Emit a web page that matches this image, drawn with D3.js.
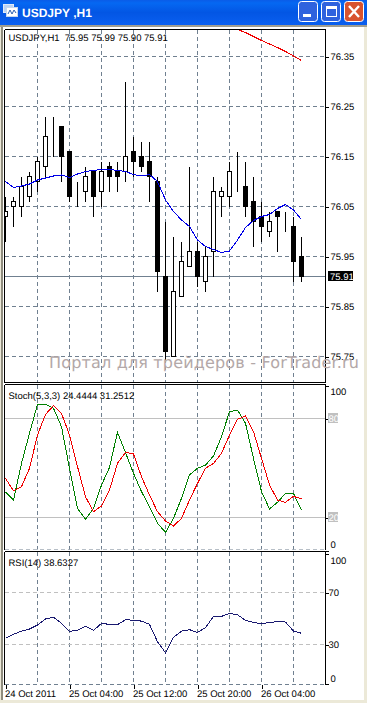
<!DOCTYPE html>
<html>
<head>
<meta charset="utf-8">
<script src="https://cdnjs.cloudflare.com/ajax/libs/d3/7.8.5/d3.min.js"></script>
<style>
html, body { margin: 0; padding: 0; background: #ece9d8; overflow: hidden; }
svg { display: block; }
text { font-family: "Liberation Sans", sans-serif; font-size: 9.5px; fill: #000; text-rendering: geometricPrecision; }
</style>
</head>
<body>
<script>
// chart data
var opens = [76.03, 76.05, 76.05, 76.07, 76.10, 76.13, 76.20, 76.21, 76.16, 76.08, 76.08, 76.12, 76.08, 76.13, 76.12, 76.12, 76.16, 76.15, 76.14, 76.10, 75.91, 75.75, 75.87, 75.93, 75.96, 75.90, 75.96, 76.07, 76.07, 76.11, 76.09, 76.06, 76.03, 76.00, 76.04, 76.02, 76.01, 75.95];
var highs = [76.07, 76.07, 76.11, 76.12, 76.15, 76.23, 76.23, 76.21, 76.16, 76.10, 76.13, 76.12, 76.14, 76.14, 76.14, 76.30, 76.19, 76.18, 76.18, 76.11, 76.02, 75.99, 75.98, 76.13, 75.98, 75.97, 76.11, 76.09, 76.14, 76.16, 76.14, 76.11, 76.06, 76.04, 76.04, 76.04, 76.03, 75.99];
var lows = [75.98, 76.01, 76.03, 76.06, 76.08, 76.11, 76.15, 76.10, 76.06, 76.05, 76.06, 76.03, 76.05, 76.08, 76.08, 76.10, 76.11, 76.12, 76.06, 75.88, 75.74, 75.75, 75.87, 75.93, 75.89, 75.88, 75.91, 76.03, 76.05, 76.08, 76.03, 75.97, 75.98, 75.99, 75.96, 76.00, 75.90, 75.90];
var closes = [76.04, 76.06, 76.09, 76.11, 76.14, 76.19, 76.20, 76.15, 76.07, 76.08, 76.11, 76.07, 76.12, 76.11, 76.11, 76.15, 76.14, 76.13, 76.11, 75.92, 75.76, 75.88, 75.94, 75.96, 75.91, 75.95, 76.08, 76.08, 76.12, 76.11, 76.05, 76.02, 76.01, 76.02, 76.03, 76.02, 75.94, 75.91];
var maBlue = [76.100, 76.088, 76.091, 76.095, 76.103, 76.107, 76.111, 76.113, 76.108, 76.115, 76.120, 76.122, 76.124, 76.124, 76.122, 76.120, 76.114, 76.111, 76.114, 76.100, 76.063, 76.040, 76.023, 76.010, 75.983, 75.970, 75.964, 75.958, 75.961, 75.983, 76.008, 76.022, 76.030, 76.034, 76.046, 76.054, 76.043, 76.024];
var maRedStart = 29;
var maRed = [76.404, 76.398, 76.390, 76.382, 76.375, 76.368, 76.360, 76.351, 76.342];
var stochK = [35.5, 30.6, 52.8, 71.0, 88.6, 88.6, 86.2, 75.0, 49.8, 25.5, 18.9, 25.5, 39.7, 50.4, 71.6, 59.3, 46.8, 35.7, 26.6, 16.5, 11.0, 19.5, 31.6, 45.8, 49.8, 51.8, 57.3, 69.0, 84.1, 85.1, 77.1, 55.8, 35.7, 25.2, 29.2, 34.6, 34.6, 24.44];
var stochD = [43.7, 36.1, 38.7, 49.8, 70.0, 82.5, 87.8, 83.1, 70.0, 50.8, 32.6, 23.5, 27.0, 36.7, 52.8, 59.5, 58.5, 44.7, 33.6, 23.5, 17.9, 14.8, 19.5, 30.6, 40.7, 49.8, 52.8, 58.9, 70.0, 79.5, 81.5, 72.0, 55.8, 39.7, 30.6, 29.2, 32.8, 31.25];
var rsi = [34.7, 37.8, 40.3, 41.9, 45.0, 49.6, 51.1, 46.2, 40.1, 40.9, 43.9, 40.9, 46.2, 45.5, 45.2, 49.1, 48.6, 48.0, 45.5, 32.1, 23.7, 35.5, 40.3, 41.4, 39.3, 42.9, 51.6, 51.6, 53.9, 52.9, 48.5, 47.0, 46.0, 47.0, 47.5, 47.3, 40.3, 38.63];

var priceTicks = [76.35, 76.25, 76.15, 76.05, 75.95, 75.85, 75.75];
var lastPrice = 75.91;
var gridIndexes = [4, 8, 12, 16, 20, 24, 28, 32, 36];
var timeIndexes = [0, 8, 16, 24, 32];
var timeLabels = ["24 Oct 2011", "25 Oct 04:00", "25 Oct 12:00", "25 Oct 20:00", "26 Oct 04:00"];
var stochTicks = [100, 80, 20, 0];
var rsiTicks = [100, 70, 30, 0];

var titleText = "USDJPY ,H1";
var mainLegend = "USDJPY,H1  75.95 75.99 75.90 75.91";
var stochLegend = "Stoch(5,3,3) 24.4444 31.2512";
var rsiLegend = "RSI(14) 38.6327";
var watermark = "Портал для трейдеров - ForTrader.ru";

var gridColor = "#708090";
var width = 367, height = 703;
var left = 4.5, right = 325.5;

var svg = d3.select("body").append("svg")
        .attr("width", width)
        .attr("height", height);

// window frame
var defs = svg.append("defs");
var grad = defs.append("linearGradient").attr("id", "titleGrad")
        .attr("x1", 0).attr("x2", 0).attr("y1", 0).attr("y2", 1);
grad.append("stop").attr("offset", "0").attr("stop-color", "#0a5ce8");
grad.append("stop").attr("offset", "0.12").attr("stop-color", "#0568f2");
grad.append("stop").attr("offset", "0.5").attr("stop-color", "#0356e4");
grad.append("stop").attr("offset", "1").attr("stop-color", "#0a5ff0");

svg.append("rect").attr("x", 0).attr("y", 0).attr("width", width).attr("height", height).attr("fill", "#ece9d8");
svg.append("rect").attr("x", 1).attr("y", 26).attr("width", 2).attr("height", 674).attr("fill", "#8f8c7e");
svg.append("rect").attr("x", 3).attr("y", 27).attr("width", 361).attr("height", 673).attr("fill", "#fff");
svg.append("rect").attr("x", 0).attr("y", 0).attr("width", width).attr("height", 25).attr("fill", "url(#titleGrad)");
svg.append("rect").attr("x", 0).attr("y", 25).attr("width", width).attr("height", 2).attr("fill", "#a09d90");

// title icon
svg.append("rect").attr("x", 3.5).attr("y", 4.5).attr("width", 10).attr("height", 8).attr("fill", "#b9d3f5").attr("stroke", "#dfeaf8");
svg.append("rect").attr("x", 6.5).attr("y", 7.5).attr("width", 11).attr("height", 9).attr("fill", "#fff").attr("stroke", "#c6d8ee");
svg.append("path").attr("d", "M8 14L10 10L12 14L14 10L16 13").attr("fill", "none").attr("stroke", "#2a5fb0");

svg.append("text").attr("x", 22).attr("y", 17)
        .style("font-size", "12px").style("font-weight", "bold").style("fill", "#fff")
        .text(titleText);

// title buttons
var buttons = [
    {x: 298.5, fill: "#2f62de"},
    {x: 321.5, fill: "#2f62de"},
    {x: 344.5, fill: "#d8532f"}
];
svg.selectAll(".btn").data(buttons).enter().append("rect")
        .attr("class", "btn")
        .attr("x", function (d) { return d.x; })
        .attr("y", 1.5)
        .attr("width", 19).attr("height", 20).attr("rx", 3)
        .attr("fill", function (d) { return d.fill; })
        .attr("stroke", "#fff");
svg.append("rect").attr("x", 303).attr("y", 14).attr("width", 8).attr("height", 3).attr("fill", "#fff");
svg.append("rect").attr("x", 326.5).attr("y", 6.5).attr("width", 10).attr("height", 10).attr("fill", "none").attr("stroke", "#fff");
svg.append("rect").attr("x", 326).attr("y", 6).attr("width", 11).attr("height", 3).attr("fill", "#fff");
svg.append("path").attr("d", "M349 6L359 17M359 6L349 17").attr("stroke", "#fff").attr("stroke-width", 2.4);

// scales
var x = d3.scaleLinear().domain([0, 37]).range([5.5, 301.5]);
var yMain = d3.scaleLinear().domain([75.75, 76.35]).range([356.5, 56.5]);
var yStoch = d3.scaleLinear().domain([0, 100]).range([550.5, 385.5]);
var yRsi = d3.scaleLinear().domain([0, 100]).range([683.5, 553.5]);

var panels = [
    {id: "clipMain", top: 29.5, bottom: 382.5},
    {id: "clipStoch", top: 384.5, bottom: 549.5},
    {id: "clipRsi", top: 551.5, bottom: 684.5}
];
panels.forEach(function (p) {
    defs.append("clipPath").attr("id", p.id).append("rect")
            .attr("x", left).attr("y", p.top)
            .attr("width", right - left).attr("height", p.bottom - p.top);
});

function dashed(g, cls, x1, x2, y1, y2, color) {
    return g.append("line").attr("class", cls)
            .attr("x1", x1).attr("x2", x2).attr("y1", y1).attr("y2", y2)
            .attr("stroke", color).attr("stroke-dasharray", "4,3")
            .attr("shape-rendering", "crispEdges");
}

function verticalGrid(g, p) {
    gridIndexes.forEach(function (i) {
        dashed(g, "vgrid", x(i), x(i), p.top, p.bottom, gridColor);
    });
}

function drawLine(g, values, y, color, start) {
    var line = d3.line()
            .x(function (d, i) { return x(i + (start || 0)); })
            .y(function (d) { return y(d); });
    g.append("path").datum(values)
            .attr("d", line)
            .attr("fill", "none")
            .attr("stroke", color)
            .attr("shape-rendering", "crispEdges");
}

// main panel
var main = svg.append("g").attr("clip-path", "url(#clipMain)");
verticalGrid(main, panels[0]);
priceTicks.forEach(function (p) {
    dashed(main, "hgrid", left, right, yMain(p), yMain(p), gridColor);
});
main.append("line").attr("x1", left).attr("x2", right)
        .attr("y1", yMain(lastPrice)).attr("y2", yMain(lastPrice))
        .attr("stroke", gridColor).attr("shape-rendering", "crispEdges");

var candles = main.selectAll(".candle").data(opens).enter().append("g").attr("class", "candle")
        .attr("shape-rendering", "crispEdges");
candles.append("line")
        .attr("x1", function (d, i) { return x(i); })
        .attr("x2", function (d, i) { return x(i); })
        .attr("y1", function (d, i) { return yMain(highs[i]); })
        .attr("y2", function (d, i) { return yMain(lows[i]); })
        .attr("stroke", "#000");
candles.append("rect")
        .attr("x", function (d, i) { return x(i) - 2; })
        .attr("width", 4)
        .attr("y", function (d, i) { return yMain(Math.max(d, closes[i])); })
        .attr("height", function (d, i) { return Math.abs(yMain(d) - yMain(closes[i])); })
        .attr("fill", function (d, i) { return closes[i] < d ? "#000" : "#fff"; })
        .attr("stroke", "#000");

drawLine(main, maBlue, yMain, "#0000e6");
drawLine(main, maRed, yMain, "#f00000", maRedStart);

// stochastic panel
var stoch = svg.append("g").attr("clip-path", "url(#clipStoch)");
verticalGrid(stoch, panels[1]);
dashed(stoch, "hgrid", left, right, 549, 549, gridColor);
[80, 20].forEach(function (v) {
    stoch.append("line").attr("x1", left).attr("x2", right)
            .attr("y1", yStoch(v)).attr("y2", yStoch(v))
            .attr("stroke", "#c0c0c0").attr("shape-rendering", "crispEdges");
});
drawLine(stoch, stochK, yStoch, "#008000");
drawLine(stoch, stochD, yStoch, "#f00000");

// rsi panel
var rsiPanel = svg.append("g").attr("clip-path", "url(#clipRsi)");
verticalGrid(rsiPanel, panels[2]);
[70, 30].forEach(function (v) {
    dashed(rsiPanel, "hgrid", left, right, yRsi(v), yRsi(v), "#c0c0c0");
});
drawLine(rsiPanel, rsi, yRsi, "#191970");

// panel borders
panels.forEach(function (p, i) {
    var frame = svg.append("g").attr("stroke", "#000").attr("shape-rendering", "crispEdges");
    frame.append("line").attr("x1", left).attr("x2", right).attr("y1", p.top).attr("y2", p.top);
    if (i === 0) {
        frame.append("line").attr("x1", left).attr("x2", right).attr("y1", p.bottom).attr("y2", p.bottom);
    }
    frame.append("line").attr("x1", left).attr("x2", left).attr("y1", p.top).attr("y2", p.bottom);
    frame.append("line").attr("x1", right).attr("x2", right).attr("y1", p.top).attr("y2", p.bottom);
});
dashed(svg, "hgrid", left, right, 684.5, 684.5, gridColor);

// right axes
function rightAxis(scale, ticks, fmt, nudge) {
    var g = svg.append("g")
            .attr("transform", "translate(" + right + ",0)")
            .call(d3.axisRight(scale).tickValues(ticks).tickSize(3).tickPadding(2).tickFormat(fmt));
    g.select(".domain").remove();
    g.selectAll("line").attr("stroke", "#000").attr("shape-rendering", "crispEdges");
    g.selectAll("text").attr("dy", function (d) { return (nudge ? nudge(d) : 0) + 3; });
    return g;
}

rightAxis(yMain, priceTicks, d3.format(".2f"));

svg.append("rect")
        .attr("x", 328).attr("width", 25)
        .attr("y", yMain(lastPrice) - 5.5).attr("height", 10)
        .attr("fill", "#000");
svg.append("text")
        .attr("x", 330).attr("y", yMain(lastPrice) + 3)
        .style("fill", "#fff")
        .text(d3.format(".2f")(lastPrice));

var stochAxis = rightAxis(yStoch, stochTicks, d3.format("d"), function (d) {
    return d === 100 ? 6 : d === 0 ? -6.5 : 0;
});
stochAxis.selectAll(".tick").filter(function (d) { return d === 80 || d === 20; }).each(function () {
    d3.select(this).select("text").style("fill", "#fff").attr("x", 3);
    d3.select(this).insert("rect", "text")
            .attr("x", 2.5).attr("y", -6).attr("width", 10).attr("height", 10)
            .attr("fill", "#c0c0c0");
});
var rsiAxis = rightAxis(yRsi, rsiTicks, d3.format("d"), function (d) {
    return d === 100 ? 6.5 : d === 0 ? -5.5 : 0;
});
rsiAxis.selectAll(".tick").filter(function (d) { return d === 70 || d === 30; })
        .select("text").attr("x", 3);

// time axis
var timeAxis = svg.append("g")
        .attr("transform", "translate(0,684.5)")
        .call(d3.axisBottom(x)
                .tickValues(timeIndexes)
                .tickSize(4)
                .tickPadding(2)
                .tickFormat(function (d) { return timeLabels[timeIndexes.indexOf(d)]; }));
timeAxis.select(".domain").remove();
timeAxis.selectAll("line").attr("stroke", "#000").attr("shape-rendering", "crispEdges");
timeAxis.selectAll("text").style("text-anchor", "start").attr("x", -1);

// legends
svg.append("text").attr("x", 8.5).attr("y", 40.5).style("white-space", "pre").text(mainLegend);
svg.append("text").attr("x", 8.5).attr("y", 398.5).text(stochLegend);
svg.append("text").attr("x", 8.5).attr("y", 566).text(rsiLegend);

// watermark sits on top of everything
svg.append("text")
        .attr("x", 49).attr("y", 368)
        .attr("textLength", 310)
        .attr("lengthAdjust", "spacing")
        .style("font-family", "'DejaVu Sans', sans-serif")
        .style("font-size", "16px")
        .style("fill", "#b3a8a8")
        .text(watermark);
</script>
</body>
</html>
